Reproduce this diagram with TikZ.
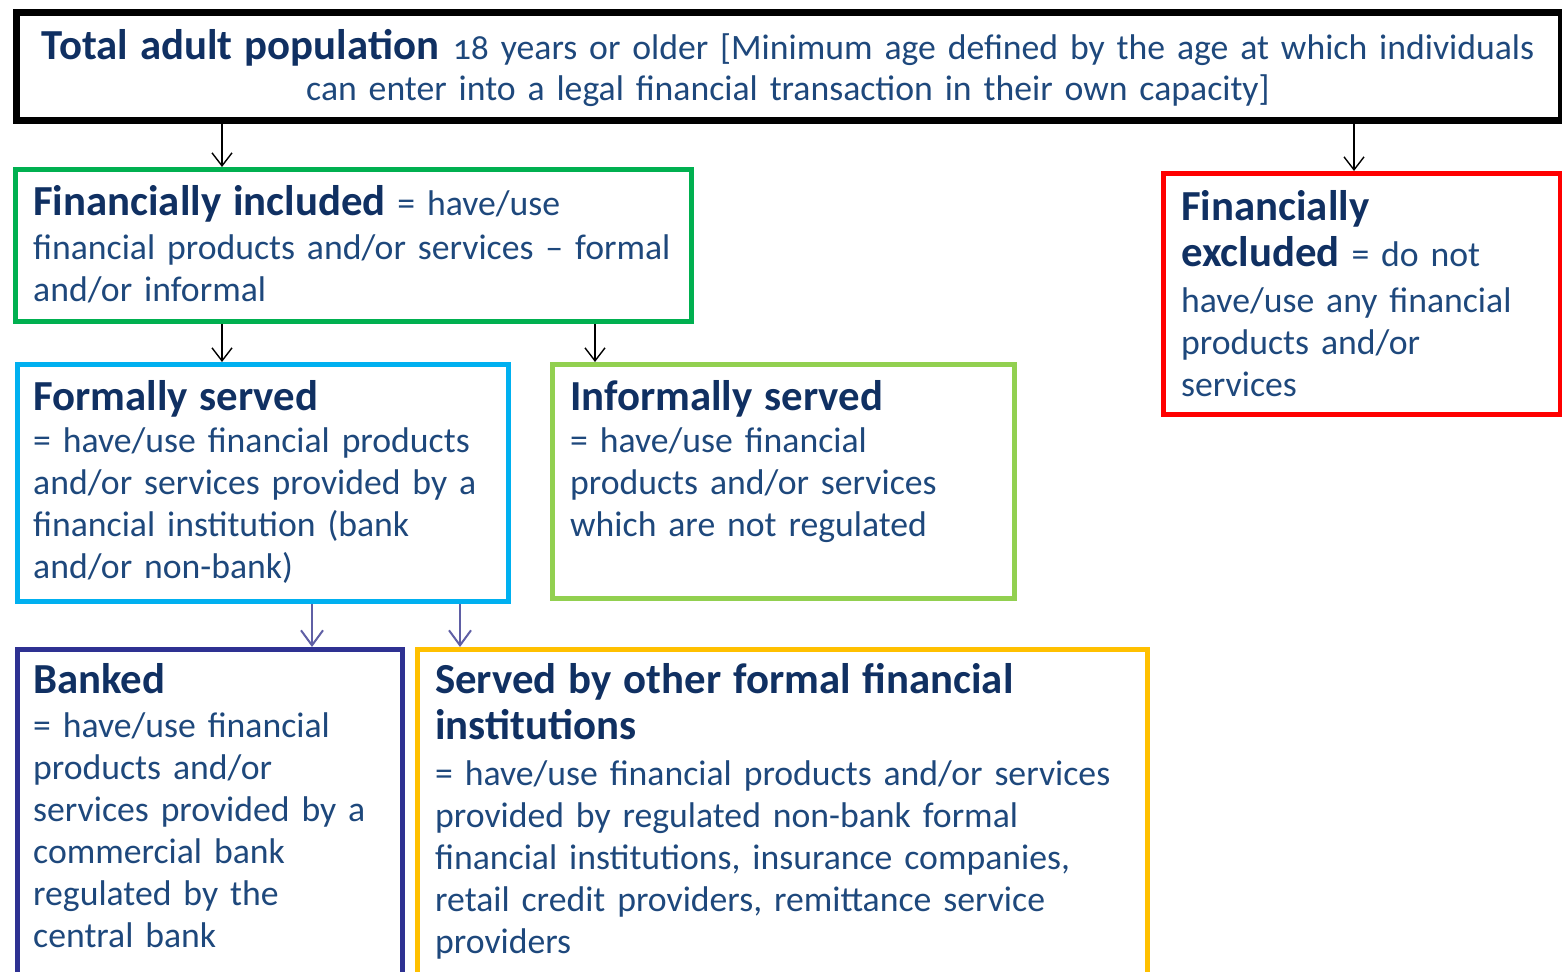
\documentclass[tikz,border=0pt]{standalone}
\usepackage{fontspec}
\setmainfont{Carlito}[Numbers=OldStyle]
\usetikzlibrary{arrows.meta}
\setlength\lineskiplimit{-100pt}
\definecolor{headc}{RGB}{16,48,98}
\definecolor{bodyc}{RGB}{30,72,124}
\definecolor{cgreen}{HTML}{00B050}
\definecolor{cred}{HTML}{FF0000}
\definecolor{cblue}{HTML}{00B0F0}
\definecolor{clgreen}{HTML}{92D050}
\definecolor{cnavy}{HTML}{2E3192}
\definecolor{cgold}{HTML}{FFC000}
\definecolor{carrow}{RGB}{95,95,165}
\newcommand\hd[1]{{\fontsize{42.8}{42}\selectfont\bfseries\color{headc}#1}}
\newcommand\tstrut{\rule{0pt}{40pt}}
\tikzset{
  box/.style={draw=#1, line width=5pt, rectangle, inner sep=0pt, anchor=north west},
  txt/.style={inner sep=0pt, anchor=north west, align=left, text=bodyc,
    font=\fontsize{35.7}{42}\selectfont},
  arr/.style={draw=black, line width=1.4pt,
    -{Straight Barb[length=13pt, width=20pt, line width=1.4pt]}},
  parr/.style={draw=carrow, line width=2pt,
    -{Straight Barb[length=15pt, width=22pt, line width=2pt]}},
}
\begin{document}
\begin{tikzpicture}[x=1pt, y=-1pt]
\useasboundingbox (0,0) rectangle (1562,971);
\clip (0,0) rectangle (1562,971);
% boxes
\node[box=black, line width=7pt, minimum width=1545pt, minimum height=108pt] (top) at (13,9) {};
\node[box=cgreen, minimum width=676pt, minimum height=152pt] (incl) at (13,167) {};
\node[box=cred, minimum width=397pt, minimum height=241pt] (excl) at (1161,171) {};
\node[box=cblue, minimum width=491pt, minimum height=237pt] (formal) at (15,362) {};
\node[box=clgreen, minimum width=462pt, minimum height=234pt] (informal) at (550,362) {};
\node[box=cnavy, minimum width=385pt, minimum height=360pt] (banked) at (15,647) {};
\node[box=cgold, minimum width=730pt, minimum height=360pt] (other) at (415,647) {};
% texts
\node[txt, anchor=north, align=center, text width=1540pt] (toptxt) at (788,19)
  {\tstrut\hd{Total adult population}\hspace{14pt}18 years or older [Minimum age defined by the age at which individuals\\[-1pt]
   can enter into a legal financial transaction in their own capacity]};
\node[txt, text width=670pt] (incltxt) at (33,175)
  {\tstrut\hd{Financially included} = have/use\\[2pt]
   financial products and/or services -- formal\\
   and/or informal};
\node[txt, text width=380pt] (excltxt) at (1181,180)
  {\tstrut\hd{Financially}\\[4pt]
   \hd{excluded} = do not\\[4pt]
   have/use any financial\\
   products and/or\\
   services};
\node[txt, text width=480pt] (formaltxt) at (33,370)
  {\tstrut\hd{Formally served}\\[0pt]
   = have/use financial products\\
   and/or services provided by a\\
   financial institution (bank\\
   and/or non-bank)};
\node[txt, text width=440pt] (informaltxt) at (570,370)
  {\tstrut\hd{Informally served}\\[0pt]
   = have/use financial\\
   products and/or services\\
   which are not regulated};
\node[txt, text width=370pt] (bankedtxt) at (33,653)
  {\tstrut\hd{Banked}\\[2pt]
   = have/use financial\\
   products and/or\\
   services provided by a\\
   commercial bank\\
   regulated by the\\
   central bank};
\node[txt, text width=710pt] (othertxt) at (435,653)
  {\tstrut\hd{Served by other formal financial}\\[4pt]
   \hd{institutions}\\[4pt]
   = have/use financial products and/or services\\
   provided by regulated non-bank formal\\
   financial institutions, insurance companies,\\
   retail credit providers, remittance service\\
   providers};
% connector x positions
\coordinate (xa) at (222,0);
\coordinate (xb) at (1354,0);
\coordinate (xc) at (595,0);
\coordinate (xd) at (312,0);
\coordinate (xe) at (460,0);
% connectors
\draw[arr] (top.south -| xa) -- (incl.north -| xa);
\draw[arr] (top.south -| xb) -- (excl.north -| xb);
\draw[arr] (incl.south -| xa) -- (formal.north -| xa);
\draw[arr] (incl.south -| xc) -- (informal.north -| xc);
\draw[parr] (formal.south -| xd) -- (banked.north -| xd);
\draw[parr] (formal.south -| xe) -- (other.north -| xe);
\end{tikzpicture}
\end{document}
